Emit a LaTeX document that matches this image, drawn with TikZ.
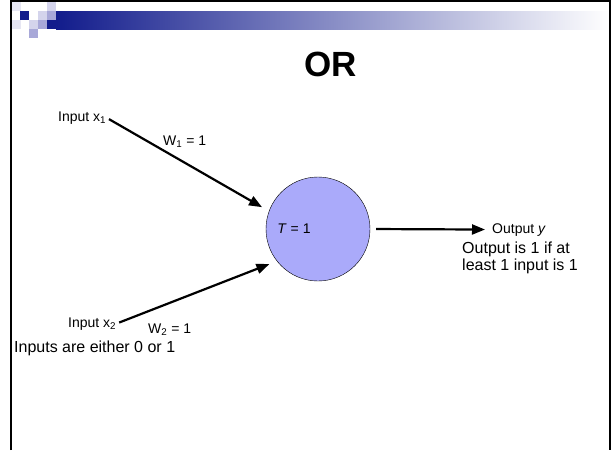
\documentclass[tikz,border=0pt]{standalone}
\usepackage{fontspec}
\setmainfont{Liberation Sans}
\usetikzlibrary{arrows.meta,positioning}
\definecolor{navy}{RGB}{18,28,140}
\definecolor{lilac}{RGB}{212,212,236}
\definecolor{lavend}{RGB}{168,168,216}
\definecolor{palest}{RGB}{230,230,243}
\definecolor{cellfill}{RGB}{170,170,250}
\tikzset{
  neuron/.style={
    shape = circle,
    draw,
    thin,
    fill = cellfill,
    minimum size = 104pt,
    inner sep = 0pt
  },
  wire/.style={
    line width = 2.2pt,
    -{Triangle[length=13pt,width=10pt]}
  },
  lbl/.style={
    font = \fontsize{14}{16}\selectfont,
    inner sep = 0pt
  },
  txt/.style={
    font = \fontsize{16}{17}\selectfont,
    inner sep = 0pt
  },
}
\begin{document}
\begin{tikzpicture}[x=1pt,y=-1pt]
  \useasboundingbox (0,0) rectangle (612,450);
  % slide header
  \shade[left color=navy, right color=white] (56,11) rectangle (610,29);
  \foreach \cx/\cy/\col in {12/2/palest, 47/2/lilac, 20/11/navy, 38/11/lilac,
      47/11/lavend, 12/20/palest, 29/20/lilac, 38/20/lavend, 47/20/navy, 29/29/lavend}{
    \fill[\col] (\cx,\cy) rectangle ++(9,9);}
  \draw[line width=2pt] (11,450) -- (11,1) -- (610,1) -- (610,450);
  \node[font=\fontsize{35}{40}\selectfont\bfseries, inner sep=0pt] (title) at (331,64.5) {OR};
  % neuron
  \node[neuron] (unit) at (318,229) {};
  \node[lbl] (thresh) at (294,229) {\textit{T} = 1};
  \node[lbl, anchor=base west] (inone) at (58,121) {Input x\textsubscript{1}};
  \node[lbl, anchor=base west] (intwo) at (68,327) {Input x\textsubscript{2}};
  \node[lbl, anchor=base west] (wone) at (163,145) {W\textsubscript{1} = 1};
  \node[lbl, anchor=base west] (wtwo) at (148,333) {W\textsubscript{2} = 1};
  \node[lbl, anchor=base west] (outy) at (492,233) {Output \textit{y}};
  \draw[wire, shorten <=3pt, shorten >=8pt] (inone.east) -- (unit.160);
  \draw[wire, shorten <=3pt, shorten >=8pt] (intwo.east) -- (unit.218);
  \draw[wire, shorten <=6pt, shorten >=7pt] (unit.east) -- (outy.west);
  \node[txt, anchor=north west, align=left] (rule) at (462,241.5) {Output is 1 if at\\least 1 input is 1};
  \node[txt, anchor=base west] (domain) at (14,352) {Inputs are either 0 or 1};
\end{tikzpicture}
\end{document}
